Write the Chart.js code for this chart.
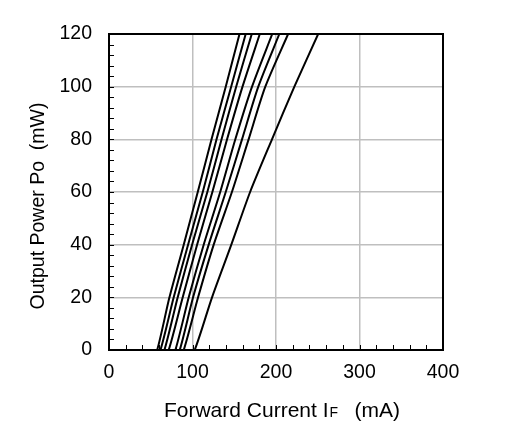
<!DOCTYPE html>
<html><head><meta charset="utf-8">
<script src="https://cdn.jsdelivr.net/npm/chart.js@4.4.0/dist/chart.umd.min.js"></script>
<style>html,body{margin:0;padding:0;background:#fff}</style>
</head><body>
<canvas id="c" width="513" height="447" style="width:513px;height:447px;display:block"></canvas>
<script>
// Optical output power levels (mW) at which each curve's forward current was read
const powerLevels = [0, 0, 20, 40, 60, 80, 100, 120];
// Forward current (mA) for each curve at the power levels above
const current1 = [54, 57.7, 72.4, 89.5, 106.3, 122.8, 139.8, 156.3];
const current2 = [58, 61.6, 77.5, 94.7, 112.3, 128.8, 146.3, 163.7];
const current3 = [63, 66.4, 82.3, 99.5, 117.8, 134.8, 152.3, 171];
const current4 = [68, 71.5, 88.3, 105.5, 123.8, 141.4, 159.9, 180.6];
const current5 = [76, 79.5, 95.5, 113.4, 133.2, 151.3, 171.3, 195.5];
const current6 = [81, 84.7, 100.7, 119.4, 139.8, 159.3, 178.8, 204];
const current7 = [86, 89.5, 106.7, 125.4, 147.2, 167.2, 187.2, 214.5];
const current8 = [98, 102.6, 123.4, 146.5, 169, 195.2, 222, 250.5];
const curves = [current1, current2, current3, current4, current5, current6, current7, current8];

const xTickLabels = [0, 100, 200, 300, 400];
const yTickLabels = [0, 20, 40, 60, 80, 100, 120];
const xTitle = ["Forward Current I", "F", "   (mA)"];
const yTitle = "Output Power Po  (mW)";

const FONT = "'Liberation Sans', Arial, sans-serif";

const datasets = curves.map((c, i) => ({
  label: 'curve ' + (i + 1),
  data: c.map((xv, k) => ({ x: xv, y: powerLevels[k] })),
  borderColor: '#000',
  borderWidth: 2,
  pointRadius: 0,
  fill: false,
  tension: 0.25
}));

const decor = {
  id: 'decor',
  afterDraw(chart) {
    const { ctx, chartArea: a, scales: { x, y } } = chart;
    ctx.save();
    ctx.strokeStyle = '#000';
    ctx.lineWidth = 1;
    ctx.beginPath();
    for (let v = 0; v <= 400; v += 20) {
      const px = Math.round(x.getPixelForValue(v)) + 0.5;
      ctx.moveTo(px, a.bottom); ctx.lineTo(px, a.bottom - 5);
    }
    for (let v = 0; v <= 120; v += 4) {
      const py = Math.round(y.getPixelForValue(v)) + 0.5;
      ctx.moveTo(a.left, py); ctx.lineTo(a.left + 5, py);
    }
    ctx.stroke();
    ctx.lineWidth = 2;
    ctx.strokeRect(a.left, a.top, a.right - a.left, a.bottom - a.top);
    // axis titles
    ctx.fillStyle = '#000';
    ctx.textBaseline = 'alphabetic';
    const big = '21px ' + FONT, small = '14px ' + FONT;
    ctx.font = big; const w1 = ctx.measureText(xTitle[0]).width, w3 = ctx.measureText(xTitle[2]).width;
    ctx.font = small; const w2 = ctx.measureText(xTitle[1]).width;
    const total = w1 + w2 + w3;
    let sx = (a.left + a.right) / 2 + 6 - total / 2;
    const by = 417;
    ctx.textAlign = 'left';
    ctx.font = big; ctx.fillText(xTitle[0], sx, by);
    ctx.font = small; ctx.fillText(xTitle[1], sx + w1 + 1, by);
    ctx.font = big; ctx.fillText(xTitle[2], sx + w1 + w2, by);
    ctx.translate(44, (a.top + a.bottom) / 2 + 14);
    ctx.rotate(-Math.PI / 2);
    ctx.textAlign = 'center';
    ctx.font = '19.5px ' + FONT;
    ctx.fillText(yTitle, 0, 0);
    ctx.restore();
  }
};

new Chart(document.getElementById('c'), {
  type: 'line',
  data: { datasets },
  options: {
    responsive: false,
    animation: false,
    devicePixelRatio: 1,
    layout: { padding: { left: 0, right: 70, top: 34, bottom: 0 } },
    plugins: { legend: { display: false }, tooltip: { enabled: false } },
    scales: {
      x: {
        type: 'linear', min: 0, max: 400,
        afterBuildTicks: s => { s.ticks = xTickLabels.map(v => ({ value: v })); },
        ticks: { color: '#000', font: { size: 19.5, family: FONT }, padding: 11, maxRotation: 0 },
        grid: { color: '#bfbfbf', lineWidth: 1.5, drawTicks: false },
        border: { display: false },
        afterFit: s => { s.height = 97; }
      },
      y: {
        type: 'linear', min: 0, max: 120,
        afterBuildTicks: s => { s.ticks = yTickLabels.map(v => ({ value: v })); },
        ticks: { color: '#000', font: { size: 19.5, family: FONT }, padding: 17 },
        grid: { color: '#bfbfbf', lineWidth: 1.5, drawTicks: false },
        border: { display: false },
        afterFit: s => { s.width = 109; }
      }
    }
  },
  plugins: [decor]
});
</script>
</body></html>
